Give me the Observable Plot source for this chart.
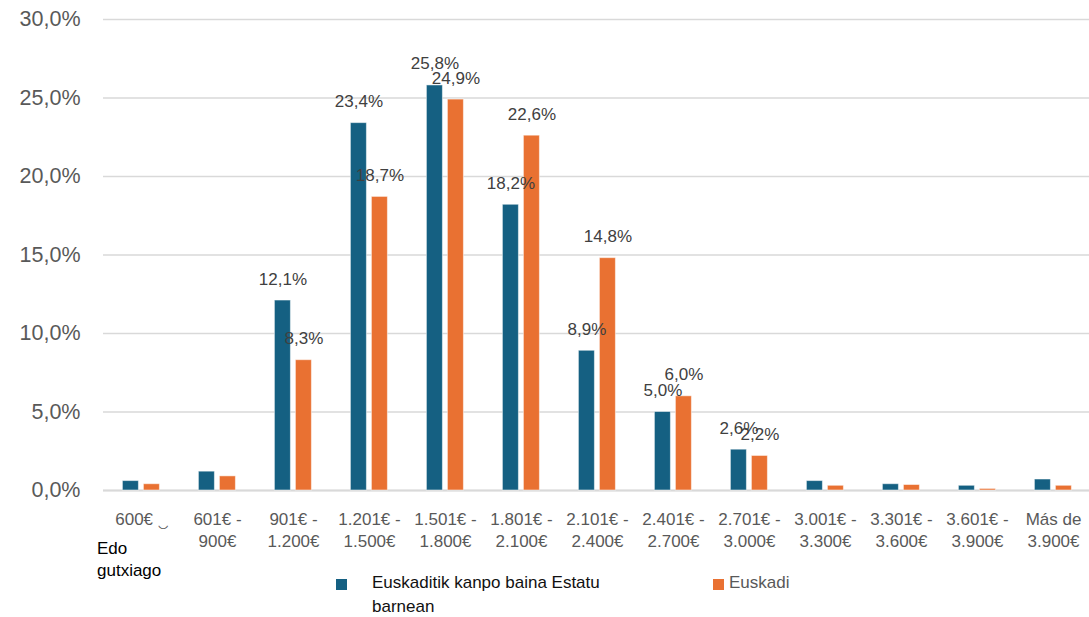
<!DOCTYPE html>
<html><head><meta charset="utf-8">
<script src="https://cdn.jsdelivr.net/npm/d3@7"></script>
<script src="https://cdn.jsdelivr.net/npm/@observablehq/plot@0.6"></script>
<style>
html,body{margin:0;padding:0;background:#fff;overflow:hidden;}
#wrap{position:relative;width:1089px;height:617px;overflow:hidden;font-family:"Liberation Sans",Arial,sans-serif;}
#wrap svg{position:absolute;left:0;top:0;max-width:none !important;width:1097px;height:617px;}
.t{position:absolute;white-space:nowrap;font-size:17px;}
.sw{position:absolute;width:11px;height:11px;}
</style></head><body><div id="wrap"></div>
<script>
const categories = ["600€ ‿", "601€ -\n900€", "901€ -\n1.200€", "1.201€ -\n1.500€", "1.501€ -\n1.800€", "1.801€ -\n2.100€", "2.101€ -\n2.400€", "2.401€ -\n2.700€", "2.701€ -\n3.000€", "3.001€ -\n3.300€", "3.301€ -\n3.600€", "3.601€ -\n3.900€", "Más de\n3.900€"];
const seriesNames = ["Euskaditik kanpo baina Estatu barnean", "Euskadi"];
const outsideValues = [0.6, 1.2, 12.1, 23.4, 25.8, 18.2, 8.9, 5.0, 2.6, 0.6, 0.4, 0.3, 0.7];
const euskadiValues = [0.4, 0.9, 8.3, 18.7, 24.9, 22.6, 14.8, 6.0, 2.2, 0.3, 0.35, 0.1, 0.3];
const yTicks = [0, 5, 10, 15, 20, 25, 30];
const colors = ["#156082", "#E97132"];

const data = [];
categories.forEach((c, i) => {
  data.push({cat: c, series: seriesNames[0], value: outsideValues[i]});
  data.push({cat: c, series: seriesNames[1], value: euskadiValues[i]});
});
const fmt = v => v.toFixed(1).replace(".", ",") + "%";
const font = "'Liberation Sans', Arial, sans-serif";

const chart = Plot.plot({
  width: 1097, height: 617,
  marginLeft: 97.6, marginRight: 0, marginTop: 19, marginBottom: 127,
  facet: {marginTop: 0, marginBottom: 0, marginLeft: 0, marginRight: 0},
  style: {fontFamily: font, background: "white", overflow: "visible", maxWidth: "none"},
  fx: {domain: categories, padding: 0, label: null},
  x: {domain: seriesNames, paddingInner: 0.227, paddingOuter: 0.861, axis: null},
  y: {domain: [0, 30], label: null},
  color: {domain: seriesNames, range: colors},
  marks: [
    Plot.gridY(yTicks, {stroke: "#d9d9d9", strokeOpacity: 1, strokeWidth: 1.3}),
    Plot.ruleY([0], {stroke: "#d9d9d9", strokeWidth: 2}),
    Plot.barY(data, {fx: "cat", x: "series", y: "value", fill: "series", stroke: "white", strokeOpacity: 0.5, strokeWidth: 1}),
    Plot.text(data.filter(d => d.value >= 2), {fx: "cat", x: "series", y: "value", text: d => fmt(d.value), lineAnchor: "bottom", dy: -16, fontSize: 17, fill: "#404040"}),
    Plot.axisY(yTicks, {tickSize: 0, tickPadding: 23, tickFormat: fmt, fontSize: 21.5, fill: "#595959", label: null}),
    Plot.axisFx({anchor: "bottom", tickSize: 0, tickPadding: 19, fontSize: 17, lineHeight: 1.29, lineAnchor: "top", fill: "#595959", label: null})
  ]
});
const wrap = document.getElementById("wrap");
wrap.appendChild(chart);

function addText(txt, left, top, color, lh) {
  const d = document.createElement("div");
  d.className = "t";
  d.style.left = left + "px"; d.style.top = top + "px";
  d.style.color = color; d.style.lineHeight = lh + "px";
  d.innerHTML = txt;
  wrap.appendChild(d);
}
function addSwatch(left, top, color) {
  const d = document.createElement("div");
  d.className = "sw";
  d.style.left = left + "px"; d.style.top = top + "px";
  d.style.background = color;
  wrap.appendChild(d);
}
addText("Edo<br>gutxiago", 97, 538, "#000", 22);
addSwatch(336, 579, colors[0]);
addText("Euskaditik kanpo baina Estatu<br>barnean", 372, 571, "#111", 24);
addSwatch(713, 579, colors[1]);
addText(seriesNames[1], 729, 571, "#595959", 24);
</script></body></html>
